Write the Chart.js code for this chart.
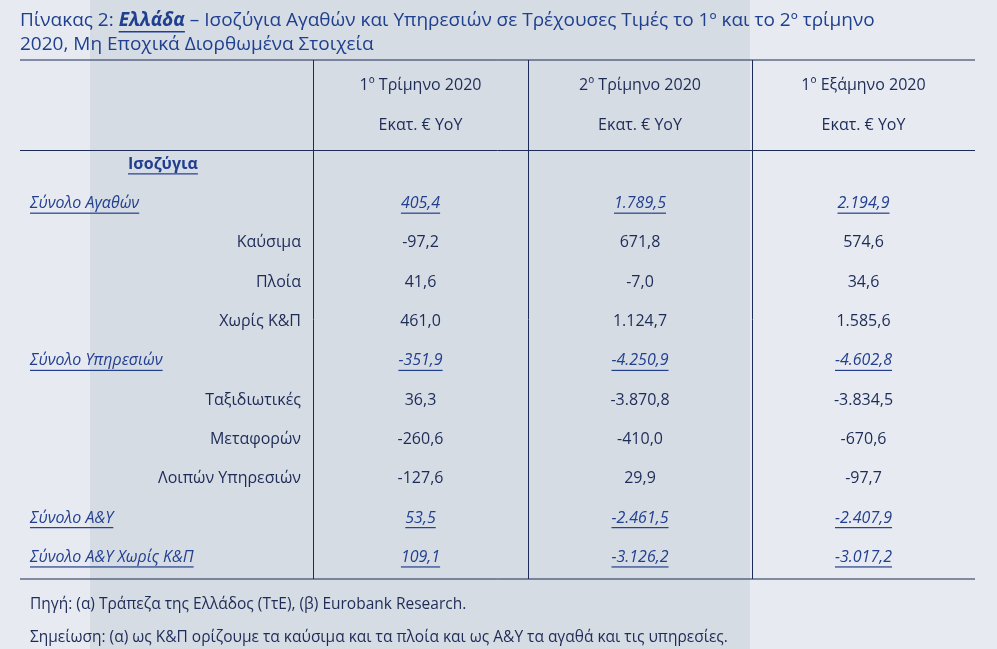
<!DOCTYPE html>
<html><head><meta charset="utf-8">
<script src="https://cdn.jsdelivr.net/npm/chart.js"></script>
<style>body{margin:0;background:#e7ebf1}#c{display:block}</style>
</head><body>
<canvas id="c" width="997" height="649"></canvas>
<script>
var columns = ["1º Τρίμηνο 2020", "2º Τρίμηνο 2020", "1º Εξάμηνο 2020"];
var rows = ["Ισοζύγια", "Σύνολο Αγαθών", "Καύσιμα", "Πλοία", "Χωρίς Κ&Π", "Σύνολο Υπηρεσιών",
  "Ταξιδιωτικές", "Μεταφορών", "Λοιπών Υπηρεσιών", "Σύνολο Α&Υ", "Σύνολο Α&Υ Χωρίς Κ&Π"];
var q1 = ["", "405,4", "-97,2", "41,6", "461,0", "-351,9", "36,3", "-260,6", "-127,6", "53,5", "109,1"];
var q2 = ["", "1.789,5", "671,8", "-7,0", "1.124,7", "-4.250,9", "-3.870,8", "-410,0", "29,9", "-2.461,5", "-3.126,2"];
var h1 = ["", "2.194,9", "574,6", "34,6", "1.585,6", "-4.602,8", "-3.834,5", "-670,6", "-97,7", "-2.407,9", "-3.017,2"];
var totals = [false, true, false, false, false, true, false, false, false, true, true];
var colEdges = [0, 293, 508, 732, 955];

var navy = "#1d2b57", blue = "#223f8f";
var yLabels = ["h1", "h2"].concat(rows);

function underline(ctx, x, y, w, align) {
  var x0 = align === "center" ? x - w / 2 : (align === "right" ? x - w : x);
  ctx.fillRect(x0, y + 9, w, 1.2);
}

var tablePlugin = {
  id: "table",
  beforeDraw: function (chart) {
    var ctx = chart.ctx;
    ctx.save();
    ctx.fillStyle = "#e7ebf1"; ctx.fillRect(0, 0, 997, 649);
    ctx.fillStyle = "#d6dce4"; ctx.fillRect(90, 0, 660, 649);
    ctx.restore();
  },
  afterDraw: function (chart) {
    var ctx = chart.ctx, x = chart.scales.x, y = chart.scales.y, a = chart.chartArea;
    ctx.save();
    ctx.textBaseline = "middle";
    // title
    ctx.fillStyle = "#1f3f8f";
    ctx.font = "19px 'Open Sans'";
    ctx.textAlign = "left";
    var t1 = "Πίνακας 2: ";
    ctx.fillText(t1, 20, 21);
    var w = ctx.measureText(t1).width;
    ctx.font = "italic bold 19px 'Open Sans'";
    ctx.fillText("Ελλάδα", 20 + w, 21);
    var w2 = ctx.measureText("Ελλάδα").width;
    ctx.fillRect(20 + w, 31, w2, 1.5);
    ctx.font = "19px 'Open Sans'";
    ctx.fillText(" – Ισοζύγια Αγαθών και Υπηρεσιών σε Τρέχουσες Τιμές το 1º και το 2º τρίμηνο", 20 + w + w2, 21);
    ctx.fillText("2020, Μη Εποχικά Διορθωμένα Στοιχεία", 20, 45);
    // lines
    ctx.strokeStyle = navy; ctx.lineWidth = 1;
    function hline(py) { ctx.beginPath(); ctx.moveTo(a.left, py); ctx.lineTo(a.right, py); ctx.stroke(); }
    hline(a.top - 6); hline(150.5); hline(a.bottom + 2);
    for (var i = 1; i < 4; i++) {
      var px = Math.round(x.getPixelForValue(colEdges[i])) + 0.5;
      ctx.beginPath(); ctx.moveTo(px, a.top - 6); ctx.lineTo(px, a.bottom + 2); ctx.stroke();
    }
    // header
    ctx.fillStyle = navy; ctx.font = "16px 'Open Sans'"; ctx.textAlign = "center";
    columns.forEach(function (c, i) {
      var cx = x.getPixelForValue((colEdges[i + 1] + colEdges[i + 2]) / 2);
      ctx.fillText(c, cx, y.getPixelForValue(0));
      ctx.fillText("Εκατ. € YoY", cx, y.getPixelForValue(1));
    });
    // rows
    var cols = [q1, q2, h1];
    rows.forEach(function (r, i) {
      var py = y.getPixelForValue(i + 2);
      if (i === 0) {
        ctx.font = "bold 16px 'Open Sans'"; ctx.fillStyle = blue; ctx.textAlign = "left";
        ctx.fillText(r, 128, py); underline(ctx, 128, py, ctx.measureText(r).width, "left");
        return;
      }
      if (totals[i]) {
        ctx.font = "italic 16px 'Open Sans'"; ctx.fillStyle = blue; ctx.textAlign = "left";
        ctx.fillText(r, 30, py); underline(ctx, 30, py, ctx.measureText(r).width, "left");
      } else {
        ctx.font = "16px 'Open Sans'"; ctx.fillStyle = navy; ctx.textAlign = "right";
        ctx.fillText(r, x.getPixelForValue(colEdges[1]) - 12, py);
      }
      ctx.textAlign = "center";
      cols.forEach(function (col, j) {
        var cx = x.getPixelForValue((colEdges[j + 1] + colEdges[j + 2]) / 2);
        ctx.fillText(col[i], cx, py);
        if (totals[i]) underline(ctx, cx, py, ctx.measureText(col[i]).width, "center");
      });
    });
    // footer
    ctx.fillStyle = navy; ctx.font = "15.5px 'Open Sans'"; ctx.textAlign = "left";
    ctx.fillText("Πηγή: (α) Τράπεζα της Ελλάδος (ΤτΕ), (β) Eurobank Research.", 30, 605);
    ctx.fillText("Σημείωση: (α) ως Κ&Π ορίζουμε τα καύσιμα και τα πλοία και ως Α&Υ τα αγαθά και τις υπηρεσίες.", 30, 638);
    ctx.restore();
  }
};

new Chart("c", {
  type: "bar",
  data: { labels: yLabels, datasets: [{ data: [] }] },
  options: {
    responsive: false, animation: false,
    layout: { padding: { top: 66, bottom: 72, left: 20, right: 22 } },
    plugins: { legend: { display: false }, tooltip: { enabled: false } },
    scales: {
      x: { type: "linear", min: colEdges[0], max: colEdges[4], offset: false, display: false },
      y: { type: "category", labels: yLabels, offset: true, display: false }
    }
  },
  plugins: [tablePlugin]
});
</script>
</body></html>
